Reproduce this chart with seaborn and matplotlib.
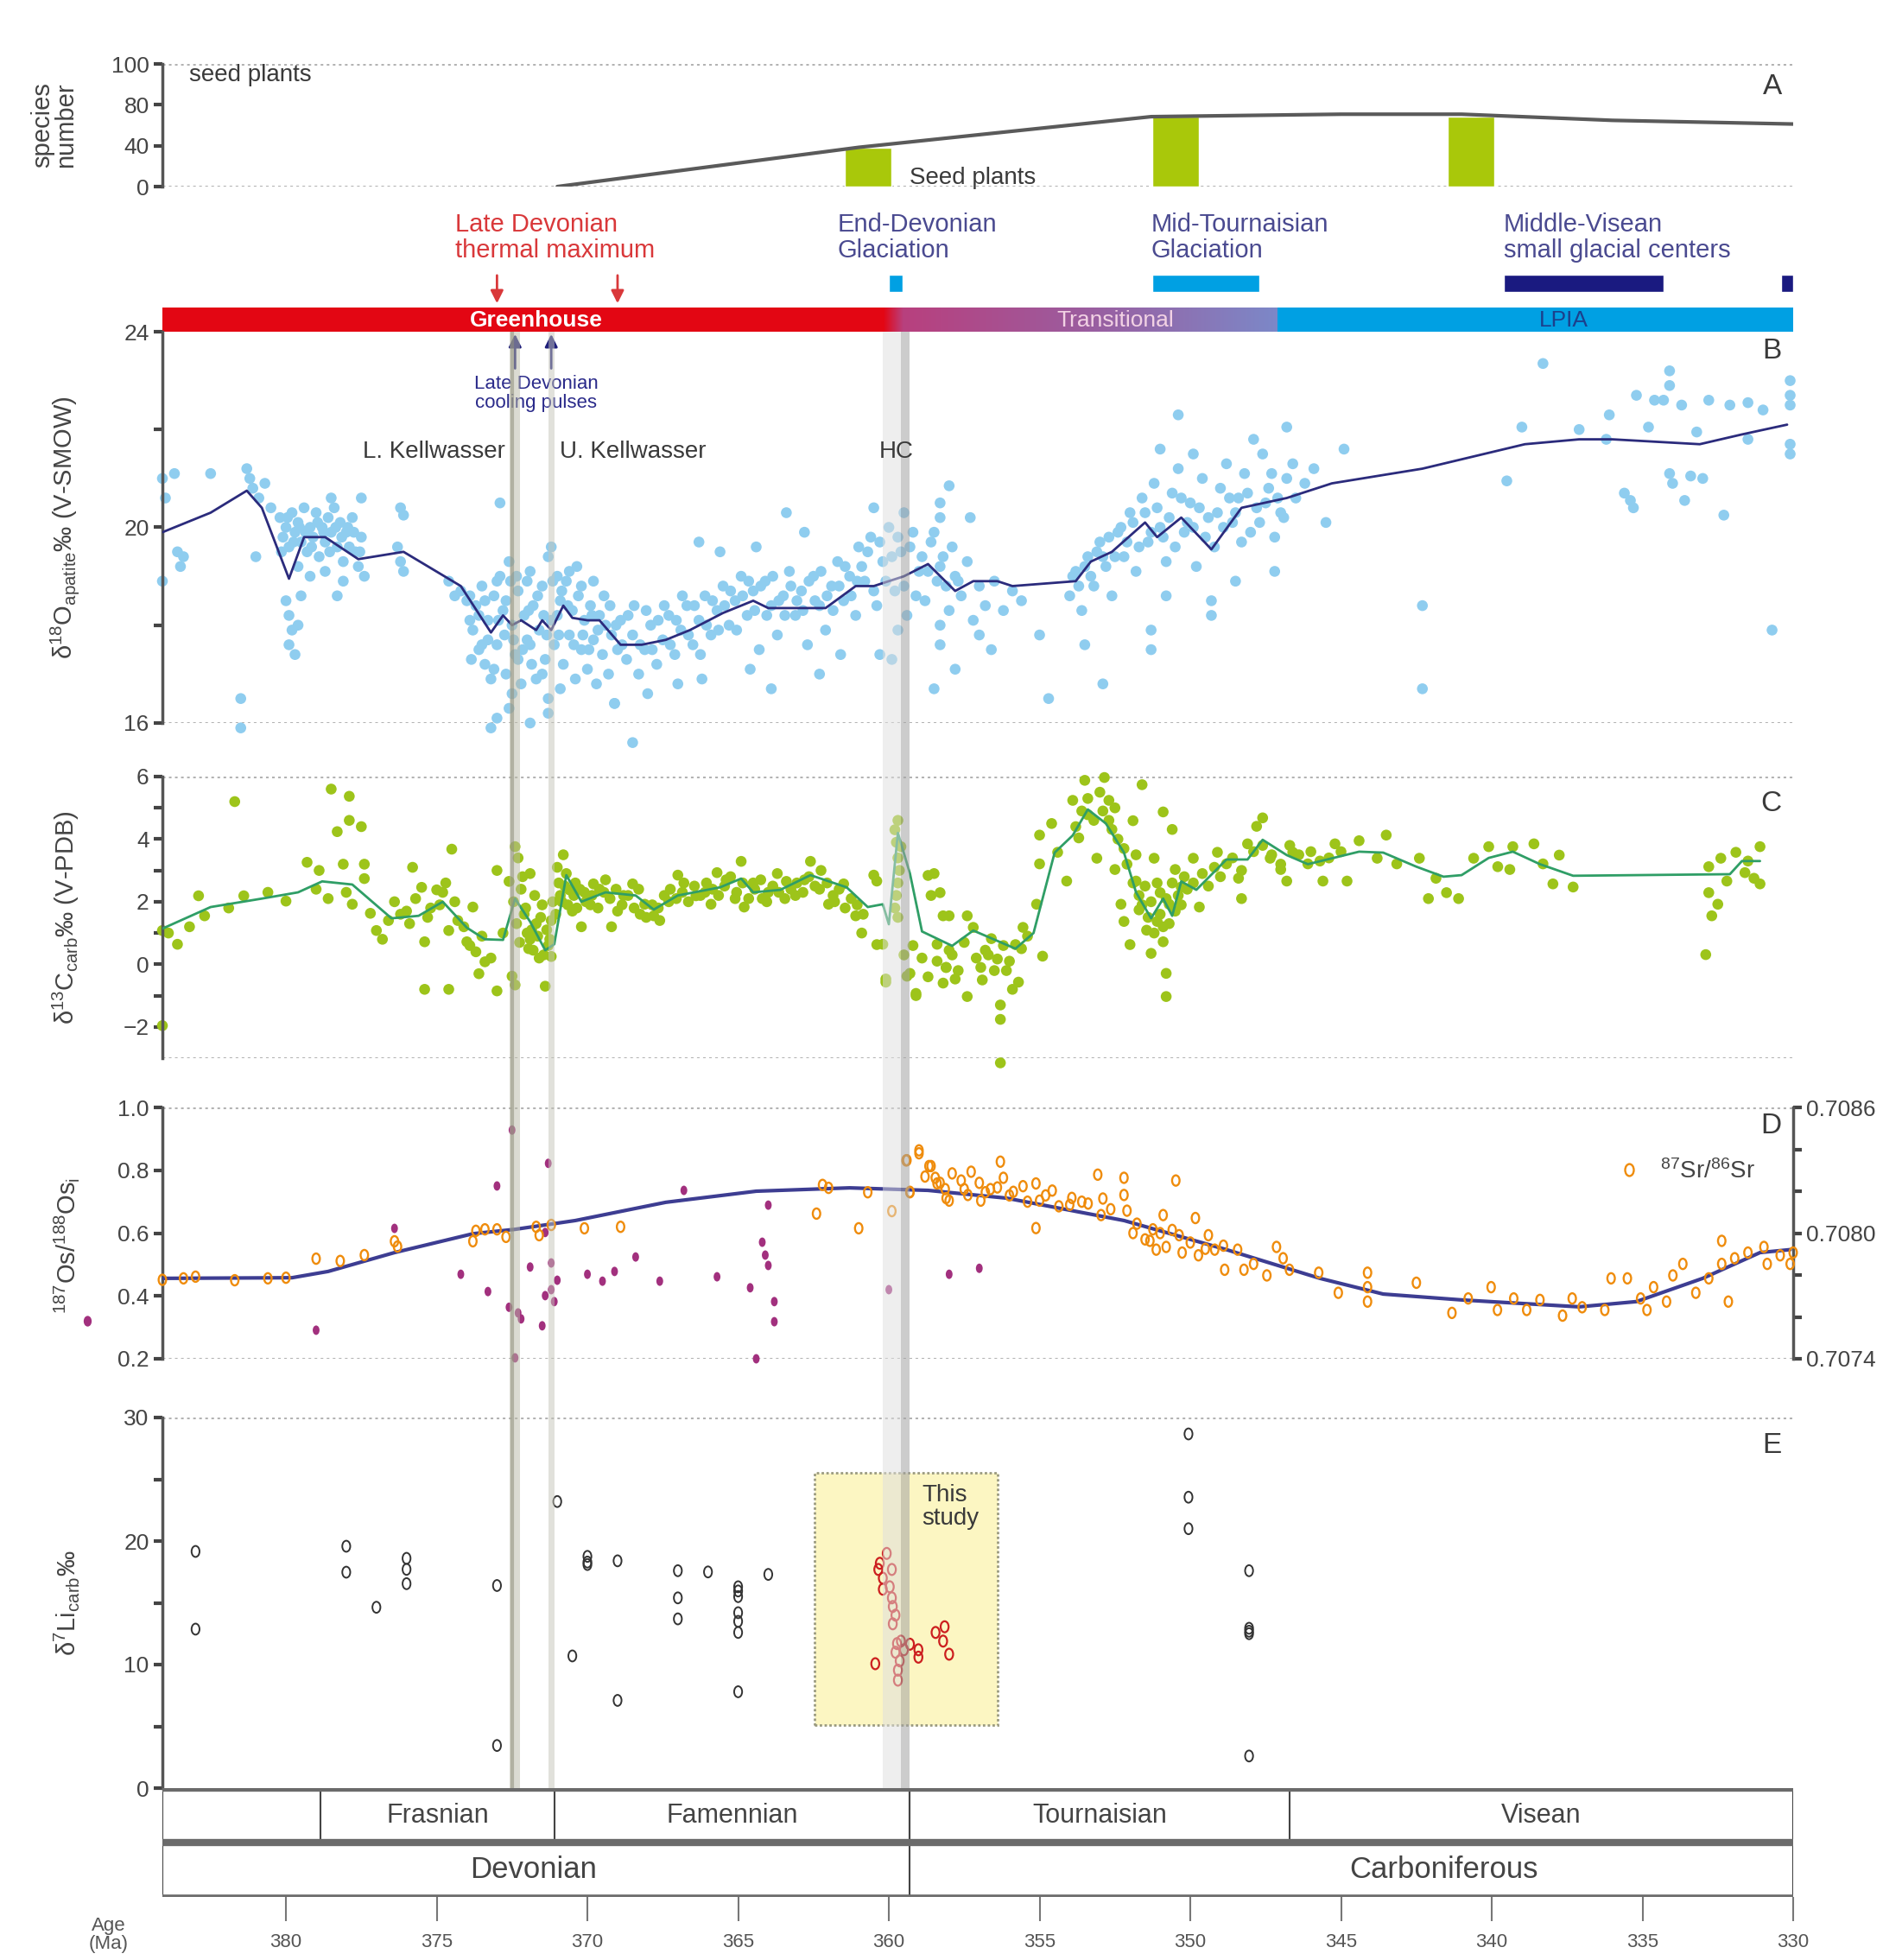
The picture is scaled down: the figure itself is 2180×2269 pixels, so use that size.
import matplotlib
matplotlib.use("Agg")
import matplotlib.pyplot as plt
import numpy as np
import pandas as pd
import seaborn as sns
from matplotlib import font_manager
from matplotlib.colors import LinearSegmentedColormap
from matplotlib.lines import Line2D
from matplotlib.path import Path

# ---------------- data ----------------
AGE_OLD, AGE_YOUNG = 384.1, 330.0
age_ticks = [380, 375, 370, 365, 360, 355, 350, 345, 340, 335, 330]

# A: seed plant species
seed_age = [371.0, 361.0, 351.3, 345.0, 341.0, 336.0, 330.0]
seed_num = [0, 32, 57, 59, 59, 54, 51]
seed_bar_age = [360.7, 350.5, 340.7]
seed_bar_num = [32, 57, 57]

# climate state bar
climate_names = ["Greenhouse", "Transitional", "LPIA"]
climate_start = [384.1, 360.2, 347.1]
climate_end = [360.2, 347.1, 330.0]
climate_label_age = [371.7, 352.5, 337.6]

# glaciations
glac_start = [360.0, 351.25, 339.6, 330.4]
glac_end = [359.55, 347.7, 334.3, 330.0]
glac_colors = ["#00a0e3", "#00a0e3", "#1a1a80", "#1a1a80"]
thermal_max_age = [373.0, 369.0]
cooling_pulse_age = [372.4, 371.2]

# event bands (Kellwasser, Hangenberg)
band_lk = (372.57, 372.24)
band_uk = (371.29, 371.08)
band_hc = (360.2, 359.3)

# B: d18O apatite
o18_points = [
    (384.1, 21.0), (384.0, 20.6), (383.7, 21.1), (384.1, 18.9), (383.6, 19.5), (383.4, 19.4), (383.5, 19.2),
    (382.5, 21.1), (381.3, 21.2), (381.2, 21.0), (381.1, 20.8), (380.9, 20.6), (381.5, 16.5), (381.5, 15.9),
    (381.0, 19.4), (380.7, 20.9), (380.5, 20.4),
    (380.2, 20.2), (380.1, 19.8), (380.0, 20.0), (379.9, 19.6), (379.8, 20.3), (379.7, 19.9), (379.6, 20.1),
    (379.5, 19.7), (379.4, 20.4), (379.3, 19.5), (379.2, 20.0), (379.1, 19.8), (379.0, 20.3), (378.9, 19.4),
    (378.8, 20.0), (378.7, 19.7), (378.6, 20.2), (378.5, 19.9), (378.4, 20.4), (378.3, 19.6), (378.2, 20.1),
    (378.1, 19.3), (378.0, 19.9), (377.9, 19.6), (377.8, 20.2), (377.7, 19.5), (377.6, 19.2), (377.5, 19.8),
    (377.4, 19.0), (378.5, 20.6), (377.5, 20.6), (379.6, 19.2), (379.2, 19.0), (378.7, 19.1), (378.1, 18.9),
    (380.15, 19.5), (379.95, 20.2), (379.75, 19.7), (379.55, 20.0), (379.35, 19.9), (379.15, 19.6),
    (378.95, 20.1), (378.75, 19.9), (378.55, 19.5), (378.35, 20.0), (378.15, 19.8), (377.95, 20.0),
    (377.75, 19.9), (377.55, 19.5),
    (380.0, 18.5), (379.9, 18.2), (379.8, 17.9), (379.9, 17.6), (379.7, 17.4), (379.6, 18.0), (379.5, 18.6),
    (378.3, 18.6), (376.1, 20.25), (376.2, 20.4), (376.2, 19.3), (376.1, 19.1), (376.3, 19.6),
    (374.6, 18.9), (374.4, 18.6), (374.2, 18.7), (374.0, 18.5), (372.9, 20.5), (373.9, 18.1),
    (373.8, 17.9), (373.7, 18.4), (373.6, 17.5), (373.5, 18.8), (373.4, 17.2), (373.3, 18.1), (373.2, 16.9),
    (373.1, 18.6), (373.0, 17.6), (372.9, 19.0), (372.8, 18.3), (372.7, 17.0), (372.6, 19.3), (372.5, 18.0),
    (372.4, 17.4), (372.3, 18.7), (372.2, 16.8), (372.1, 18.2), (372.0, 17.7), (371.9, 19.1), (371.8, 18.4),
    (371.7, 16.9), (371.6, 17.9), (371.5, 18.8), (371.4, 17.3), (371.3, 19.4), (371.2, 18.1), (371.1, 17.6),
    (371.0, 19.0), (370.9, 18.5), (370.8, 17.2), (370.7, 18.9), (370.6, 17.8), (370.5, 18.3), (370.4, 16.9),
    (370.3, 18.6), (370.2, 17.5), (370.1, 18.1), (370.0, 17.1), (369.9, 18.4), (369.8, 17.7), (369.7, 16.8),
    (369.6, 18.2), (369.5, 17.4), (369.4, 18.0), (369.3, 17.0), (369.2, 17.8), (369.1, 16.4), (369.0, 17.5),
    (368.9, 18.1), (373.5, 17.6), (373.0, 18.9), (372.7, 18.5), (372.3, 17.3), (371.9, 17.6), (371.5, 17.0),
    (371.2, 19.6), (371.0, 18.2), (370.6, 19.1), (370.2, 18.8), (369.8, 18.9), (372.0, 18.9), (372.5, 16.6),
    (371.3, 16.5), (370.9, 16.7), (373.0, 16.1), (373.2, 15.9), (371.3, 16.2), (369.1, 16.4), (368.5, 15.6),
    (372.6, 16.3), (371.9, 16.0),
    (373.9, 18.6), (373.85, 17.3), (373.6, 18.2), (373.4, 18.5), (373.3, 17.7), (373.1, 17.1), (372.95, 18.1),
    (372.75, 17.8), (372.55, 18.9), (372.45, 17.7), (372.35, 19.0), (372.15, 17.5), (371.95, 18.3),
    (371.85, 17.2), (371.65, 18.6), (371.45, 18.2), (371.35, 17.8), (371.15, 18.9), (370.95, 17.8),
    (370.85, 18.7), (370.65, 18.4), (370.45, 17.6), (370.35, 19.2), (370.15, 17.8), (369.95, 17.5),
    (369.85, 18.2), (369.65, 17.9), (369.45, 18.6), (369.25, 18.4), (369.05, 18.0), (368.85, 17.6),
    (368.65, 18.2), (368.45, 18.4), (368.25, 17.6), (368.05, 18.3), (367.85, 17.5), (367.65, 18.1),
    (367.45, 18.4), (367.25, 17.6), (367.05, 18.1), (366.85, 18.6), (366.65, 17.8), (366.45, 18.4),
    (366.25, 17.4), (366.05, 18.0), (365.85, 18.5), (365.65, 17.9), (365.45, 18.4), (365.25, 18.7),
    (365.05, 17.9), (364.85, 18.6), (364.65, 18.9), (364.45, 18.3), (364.25, 18.8), (364.05, 18.2),
    (363.85, 19.0), (363.65, 18.5), (363.45, 18.2), (363.25, 18.8), (363.05, 18.5), (362.85, 18.3),
    (362.65, 18.9), (362.45, 18.5), (362.25, 19.1), (362.05, 18.6), (361.85, 18.3), (361.65, 18.8),
    (361.45, 19.2), (361.25, 18.6), (361.05, 18.9),
    (368.7, 17.3), (368.5, 17.8), (368.3, 17.0), (368.1, 17.5), (367.9, 18.0), (367.7, 17.2), (367.5, 17.7),
    (367.3, 18.2), (367.1, 17.4), (366.9, 17.9), (366.7, 18.4), (366.5, 17.6), (366.3, 18.1), (366.1, 18.6),
    (365.9, 17.8), (365.7, 18.3), (365.5, 18.8), (365.3, 18.0), (365.1, 18.5), (364.9, 19.0), (364.7, 18.2),
    (364.5, 18.7), (364.3, 17.5), (364.1, 18.9), (363.9, 18.4), (363.7, 17.8), (363.5, 18.6), (363.3, 19.1),
    (363.1, 18.2), (362.9, 18.7), (362.7, 17.6), (362.5, 19.0), (362.3, 18.4), (362.1, 17.9), (361.9, 18.8),
    (361.7, 19.3), (361.5, 18.5), (361.3, 19.0), (361.1, 18.2), (366.3, 19.7), (365.6, 19.5), (364.4, 19.6),
    (363.4, 20.3), (362.8, 19.9), (367.0, 16.8), (366.2, 16.9), (364.6, 17.1), (363.9, 16.7), (362.3, 17.0),
    (361.6, 17.4), (368.0, 16.6),
    (361.0, 19.6), (360.8, 18.9), (360.6, 19.8), (360.4, 18.4), (360.2, 19.3), (360.0, 20.0), (359.8, 18.7),
    (359.6, 19.5), (359.4, 18.2), (359.2, 19.9), (359.0, 19.1), (358.8, 18.5), (358.6, 19.7), (358.4, 18.9),
    (358.2, 19.4), (358.0, 18.3), (357.8, 19.0), (357.6, 18.6), (357.4, 19.3), (357.2, 18.1), (357.0, 18.8),
    (356.8, 18.4), (356.5, 18.9), (356.2, 18.3), (355.9, 18.7), (355.6, 18.5), (358.0, 20.85), (358.3, 20.5),
    (358.3, 20.2), (357.3, 20.2), (359.5, 20.3), (360.5, 20.4), (358.3, 18.0), (358.3, 17.6), (357.8, 17.1),
    (358.5, 16.7), (354.7, 16.5), (360.3, 17.4), (359.9, 17.3), (359.7, 17.9), (357.0, 17.8), (356.6, 17.5),
    (355.0, 17.8),
    (360.9, 19.2), (360.7, 19.5), (360.5, 18.7), (360.3, 19.7), (360.1, 18.9), (359.9, 19.4), (359.7, 19.8),
    (359.5, 18.8), (359.3, 19.6), (359.1, 18.6), (358.9, 19.4), (358.7, 19.1), (358.5, 19.9), (358.3, 19.2),
    (358.1, 18.8), (357.9, 19.6), (357.7, 18.9),
    (354.0, 18.6), (353.8, 19.1), (353.6, 18.3), (353.4, 19.4), (353.2, 18.8), (353.0, 19.7), (352.8, 19.2),
    (352.6, 18.6), (352.4, 19.9), (352.2, 19.4), (352.0, 20.3), (351.8, 19.1), (351.6, 20.6), (351.4, 19.7),
    (351.2, 20.9), (351.0, 20.0), (350.8, 19.3), (350.6, 20.7), (350.4, 21.2), (350.2, 19.9), (350.0, 20.5),
    (349.8, 19.2), (349.6, 21.0), (349.4, 20.2), (349.2, 19.6), (349.0, 20.8), (348.8, 21.3), (348.6, 20.1),
    (348.4, 20.6), (348.2, 21.1), (348.0, 19.9), (347.8, 20.4), (347.6, 21.5), (347.4, 20.8), (347.2, 19.8),
    (347.0, 20.3), (346.8, 21.0), (346.5, 20.6), (346.2, 20.9), (345.9, 21.2), (350.4, 22.3), (346.8, 22.05),
    (344.9, 21.6), (352.9, 16.8), (351.3, 17.9), (351.3, 17.5), (349.3, 18.5), (349.3, 18.2), (342.3, 18.4),
    (342.3, 16.7), (350.8, 18.6), (353.5, 17.6), (348.5, 18.9), (347.2, 19.1), (351.0, 21.6), (349.9, 21.5),
    (347.9, 21.8), (345.5, 20.1),
    (353.9, 19.0), (353.7, 18.8), (353.5, 19.2), (353.3, 19.0), (353.1, 19.5), (352.9, 19.4), (352.7, 19.8),
    (352.5, 19.4), (352.3, 20.0), (352.1, 19.7), (351.9, 20.1), (351.7, 19.6), (351.5, 20.3), (351.3, 19.9),
    (351.1, 20.4), (350.9, 19.8), (350.7, 20.2), (350.5, 19.6), (350.3, 20.6), (350.1, 20.1), (349.9, 20.0),
    (349.7, 20.4), (349.5, 19.8), (349.1, 20.3), (348.9, 20.0), (348.7, 20.6), (348.5, 20.3), (348.3, 19.7),
    (348.1, 20.7), (347.7, 20.1), (347.5, 20.5), (347.3, 21.1), (347.1, 20.6), (346.9, 20.2), (346.6, 21.3),
    (338.3, 23.35), (334.1, 23.2), (334.1, 22.9), (335.2, 22.7), (334.6, 22.6), (333.7, 22.5), (334.3, 22.6),
    (332.8, 22.6), (332.1, 22.5), (331.5, 22.55), (331.0, 22.4), (330.1, 23.0), (330.1, 22.7), (330.1, 22.5),
    (330.1, 21.7), (330.1, 21.5), (339.0, 22.05), (337.1, 22.0), (336.1, 22.3), (334.8, 22.05), (333.2, 21.95),
    (331.5, 21.8), (339.5, 20.95), (335.4, 20.55), (335.3, 20.4), (334.1, 21.1), (334.0, 20.9), (333.0, 21.0),
    (333.6, 20.55), (332.3, 20.25), (336.2, 21.8), (330.7, 17.9), (335.6, 20.7), (333.4, 21.05),
]
o18_trend_age = [384.1, 382.5, 381.3, 380.8, 379.9, 379.4, 378.7, 377.6, 376.1, 374.2, 373.2, 372.8, 372.5,
                 372.2, 371.7, 371.5, 371.2, 370.8, 370.5, 370.0, 369.6, 368.9, 368.2, 367.4, 366.6, 365.5,
                 364.5, 364.0, 362.1, 361.1, 360.5, 359.5, 358.7, 357.8, 357.2, 356.4, 355.9, 353.8, 353.3,
                 352.6, 351.5, 351.1, 350.3, 349.3, 348.3, 346.8, 345.3, 342.3, 338.9, 337.1, 336.0, 333.1,
                 331.7, 330.2]
o18_trend = [19.9, 20.3, 20.75, 20.4, 18.95, 19.8, 19.8, 19.35, 19.5, 18.8, 17.85, 18.2, 18.0, 18.1, 17.9,
             18.1, 17.9, 18.4, 18.15, 18.1, 18.1, 17.6, 17.6, 17.7, 17.9, 18.25, 18.5, 18.35, 18.35, 18.8,
             18.8, 19.0, 19.25, 18.7, 18.9, 18.9, 18.8, 18.9, 19.3, 19.5, 20.1, 19.8, 20.2, 19.55, 20.4, 20.6,
             20.9, 21.2, 21.7, 21.8, 21.8, 21.7, 21.9, 22.1]

# C: d13C carbonate
c13_points = [
    (384.1, -1.96), (384.1, 1.08), (383.6, 0.64), (382.9, 2.19), (381.7, 5.2), (382.7, 1.55), (381.4, 2.19),
    (380.0, 2.02), (378.5, 5.6), (377.9, 5.37), (378.3, 4.24), (377.9, 4.6), (377.5, 4.4), (379.3, 3.26),
    (378.1, 3.2), (377.4, 3.2), (378.9, 3.0), (377.4, 2.74), (378.6, 2.1), (377.8, 1.92), (377.2, 1.63),
    (377.0, 1.08), (376.8, 0.8), (376.4, 2.0), (375.8, 3.1), (375.5, 2.46), (375.4, 0.72), (375.4, -0.8),
    (374.6, -0.8), (374.5, 3.68), (375.0, 2.38), (374.6, 1.08), (374.0, 0.72), (373.8, 1.83), (373.6, -0.3),
    (373.4, 0.08), (373.0, -0.85), (373.0, 3.0), (372.6, 2.65), (372.4, 3.76), (372.5, -0.38), (372.4, -0.66),
    (371.9, 0.8), (371.8, 0.45), (371.4, -0.7), (371.2, 0.25), (370.8, 3.5), (370.6, 2.38), (370.2, 1.2),
    (369.8, 2.57), (369.2, 1.2), (368.5, 2.57), (368.1, 1.92), (367.8, 1.55), (367.0, 2.85), (366.4, 2.19),
    (365.9, 1.92), (365.7, 2.93), (364.9, 3.29), (364.8, 1.83), (364.2, 2.1), (363.4, 2.65), (362.6, 3.29),
    (362.0, 1.92), (361.5, 2.57), (361.1, 1.55), (360.9, 1.0), (360.5, 2.85), (360.2, 0.64), (360.1, -0.57),
    (359.7, 4.6), (359.6, 3.76), (359.4, -0.38), (359.1, -1.0), (358.5, 2.9), (358.4, 0.64), (358.1, -0.1),
    (358.0, 1.55),
    (372.3, 3.4), (372.2, 2.4), (372.1, 1.6), (372.0, 1.0), (371.9, 2.9), (371.7, 1.3), (371.6, 0.2),
    (371.5, 1.9), (371.3, 0.6), (371.2, 1.4), (371.0, 3.1), (370.9, 2.2), (370.7, 2.9), (370.5, 1.7),
    (370.4, 2.6), (370.1, 2.3), (369.9, 1.9), (369.6, 2.4), (369.4, 2.7), (369.0, 1.7), (368.8, 2.2),
    (368.3, 2.4), (367.6, 1.4), (367.3, 2.0), (366.8, 2.6), (366.1, 2.3), (365.4, 2.7), (365.1, 2.1),
    (364.5, 2.6), (364.0, 2.3), (363.7, 2.9), (363.1, 2.2), (362.8, 2.7), (362.3, 2.4), (361.8, 2.0),
    (374.8, 2.3), (375.2, 1.8), (375.9, 1.3), (376.2, 1.6), (374.3, 1.4), (373.7, 0.4), (373.2, 0.2),
    (372.8, 1.0), (380.6, 2.3), (381.9, 1.8), (383.2, 1.2), (383.9, 1.0), (379.0, 2.4), (378.0, 2.3),
    (376.6, 1.4), (376.0, 1.7), (375.7, 2.1), (375.3, 1.5), (374.9, 1.9), (374.7, 2.6), (374.4, 2.0),
    (374.1, 1.2), (373.9, 0.6), (373.5, 0.9),
    (372.45, 2.0), (372.35, 1.3), (372.25, 0.7), (372.15, 2.8), (372.05, 1.8), (371.95, 0.5), (371.85, 1.1),
    (371.75, 2.2), (371.65, 0.9), (371.55, 1.5), (371.45, 0.3), (371.35, 1.1), (371.25, 0.8), (371.15, 2.0),
    (371.05, 1.6), (370.95, 2.6), (370.85, 2.0), (370.75, 2.5), (370.65, 1.9), (370.45, 2.2), (370.35, 1.8),
    (370.25, 2.4), (370.05, 2.0), (369.85, 2.2), (369.65, 1.8), (369.45, 2.3), (369.25, 2.1), (369.05, 2.4),
    (368.85, 1.9), (368.65, 2.2), (368.45, 1.8), (368.25, 1.6), (368.05, 1.5), (367.85, 1.9), (367.65, 1.8),
    (367.45, 2.2), (367.25, 2.4), (367.05, 2.1), (366.85, 2.3), (366.65, 2.0), (366.45, 2.5), (366.25, 2.2),
    (366.05, 2.6), (365.85, 2.4), (365.65, 2.2), (365.45, 2.5), (365.25, 2.8), (365.05, 2.3), (364.85, 2.6),
    (364.65, 2.1), (364.45, 2.4), (364.25, 2.7), (364.05, 2.0), (363.85, 2.5), (363.65, 2.3), (363.45, 2.1),
    (363.25, 2.4), (363.05, 2.6), (362.85, 2.3), (362.65, 2.8), (362.45, 2.5), (362.25, 3.0), (362.05, 2.6),
    (361.85, 2.2), (361.65, 2.4), (361.45, 1.8), (361.25, 2.1), (361.05, 1.9), (360.85, 1.6),
    (359.8, 4.3), (359.75, 3.9), (359.7, 3.4), (359.65, 3.0), (359.7, 2.6), (359.75, 2.2), (359.8, 1.8),
    (359.7, 1.5),
    (359.5, 0.3), (359.2, 0.6), (358.9, 0.2), (358.7, -0.4), (358.4, 0.1), (358.2, -0.6), (357.9, 0.3),
    (357.7, -0.2), (357.5, 0.7), (357.1, 0.2), (356.9, -0.5), (356.7, 0.3), (356.5, -0.2), (356.2, 0.6),
    (356.0, 0.1), (355.9, -0.8), (355.6, 0.5), (355.4, 0.9),
    (360.4, 2.66), (360.4, 0.63), (360.1, -0.47), (359.3, -0.29), (359.1, -0.93), (358.7, 2.84), (358.6, 2.2),
    (358.3, 2.29), (358.2, 1.55), (358.1, -0.1), (358.0, 0.45), (357.8, -0.47), (357.4, 1.55), (357.4, -1.03),
    (357.2, 1.18), (356.95, -0.1), (356.8, 0.45), (356.6, 0.82), (356.4, 0.17), (356.3, -1.3), (356.3, -1.76),
    (356.3, -3.15), (356.1, -0.2), (355.8, 0.63), (355.7, -0.57), (355.55, 1.18), (355.1, 1.92), (355.0, 3.21),
    (355.0, 4.13), (354.9, 0.26), (354.6, 4.5), (354.4, 3.58), (354.1, 2.66), (353.9, 5.24), (353.7, 4.04),
    (353.5, 5.88), (353.4, 4.78), (353.1, 3.39), (352.85, 5.97), (352.7, 5.24), (352.6, 4.31), (352.5, 3.03),
    (352.3, 1.92), (352.2, 1.37), (352.0, 0.63), (351.9, 4.59), (351.8, 2.66), (351.7, 1.74), (351.6, 5.74),
    (351.45, 1.09), (351.3, 0.35), (351.2, 3.39), (351.1, 1.37), (351.0, 2.29), (350.9, 4.87), (350.9, 0.72),
    (350.8, -0.29), (350.8, -1.03), (350.7, 1.92), (350.6, 4.31), (350.5, 3.03), (350.3, 2.47), (349.9, 3.39),
    (349.7, 1.83), (349.1, 3.58), (348.8, 3.21), (348.4, 2.75), (348.3, 2.1), (348.1, 3.85), (347.8, 4.41),
    (347.6, 4.68), (347.35, 3.39), (347.0, 3.03), (346.8, 2.66), (346.6, 3.58), (346.1, 3.21), (345.6, 2.66),
    (345.2, 3.85), (344.8, 2.66), (344.4, 3.95), (343.8, 3.39), (343.5, 4.13), (343.15, 3.21), (342.4, 3.39),
    (342.1, 2.1), (341.85, 2.75), (341.5, 2.29), (341.1, 2.1), (340.6, 3.39), (340.1, 3.76), (339.8, 3.12),
    (339.4, 3.03), (339.3, 3.76), (338.6, 3.85), (338.3, 3.21), (337.97, 2.57), (337.76, 3.49), (337.3, 2.47),
    (353.8, 4.4), (353.6, 4.9), (353.4, 5.3), (353.2, 4.6), (353.0, 5.5), (352.9, 4.9), (352.7, 4.6),
    (352.5, 5.0), (352.4, 4.0), (352.2, 3.7), (352.1, 3.2), (351.9, 2.6), (351.8, 3.5), (351.7, 2.2),
    (351.6, 1.9), (351.5, 2.5), (351.4, 1.5), (351.3, 2.0), (351.2, 1.0), (351.1, 2.6), (351.0, 1.6),
    (350.9, 1.2), (350.8, 2.1), (350.7, 1.3), (350.6, 2.6), (350.5, 1.7), (350.4, 2.2), (350.3, 1.9),
    (350.2, 2.8), (350.1, 2.4), (349.9, 2.6), (349.6, 2.9), (349.4, 2.5), (349.2, 3.1), (349.0, 2.8),
    (348.6, 3.4), (348.3, 3.0), (347.9, 3.6), (347.6, 3.8), (347.3, 3.5), (347.0, 3.2), (346.7, 3.8),
    (346.4, 3.5), (346.0, 3.6), (345.7, 3.3), (345.4, 3.4), (345.0, 3.6),
    (332.9, 0.31), (332.8, 3.12), (332.8, 2.29), (332.7, 1.55), (332.5, 1.92), (332.4, 3.39), (332.2, 2.66),
    (331.9, 3.58), (331.6, 2.93), (331.5, 3.3), (331.3, 2.75), (331.1, 3.76), (331.1, 2.57),
]
c13_trend_age = [384.1, 382.5, 380.8, 379.6, 378.8, 377.8, 376.5, 375.6, 374.8, 374.0, 373.4, 372.8, 372.4,
                 371.9, 371.4, 371.1, 370.7, 370.2, 369.4, 368.4, 367.8, 367.0, 365.6, 364.9, 364.5, 363.6,
                 362.6, 361.4, 360.7, 360.2, 360.0, 359.7, 359.3, 358.9, 357.9, 357.2, 355.8, 355.2, 354.5,
                 353.9, 353.4, 352.8, 352.2, 351.8, 351.3, 350.9, 350.6, 350.3, 349.8, 348.8, 348.1, 347.6,
                 346.8, 346.1, 344.4, 343.6, 342.5, 341.6, 341.0, 340.1, 339.3, 338.4, 337.3, 332.1, 331.7,
                 331.1]
c13_trend = [1.14, 1.83, 2.1, 2.3, 2.65, 2.55, 1.47, 1.55, 2.0, 1.17, 0.8, 0.78, 2.1, 1.36, 0.45, 0.64,
             2.85, 2.0, 2.3, 2.2, 1.75, 2.2, 2.46, 2.74, 2.3, 2.38, 2.85, 2.46, 1.83, 1.92, 1.28, 4.2, 2.9,
             1.05, 0.59, 1.08, 0.5, 1.0, 3.57, 4.12, 4.95, 4.5, 3.57, 2.3, 1.47, 2.1, 1.55, 2.65, 2.38, 3.35,
             3.35, 3.98, 3.49, 3.2, 3.6, 3.57, 3.12, 2.8, 2.85, 3.4, 3.6, 3.2, 2.83, 2.88, 3.3, 3.3]

# D: 187Os/188Os(i) and 87Sr/86Sr
os_points = [
    (379.0, 0.291), (376.4, 0.615), (374.2, 0.469), (373.3, 0.414), (373.0, 0.75), (372.6, 0.364),
    (372.5, 0.928), (372.4, 0.203), (372.3, 0.346), (372.2, 0.327), (371.9, 0.492), (371.5, 0.305),
    (371.4, 0.602), (371.4, 0.401), (371.3, 0.822), (371.2, 0.505), (371.2, 0.42), (371.1, 0.382),
    (371.0, 0.45), (370.0, 0.469), (369.5, 0.447), (369.1, 0.478), (368.4, 0.524), (367.6, 0.447),
    (366.8, 0.736), (365.7, 0.461), (364.6, 0.426), (364.4, 0.2), (364.2, 0.571), (364.1, 0.53),
    (364.0, 0.497), (364.0, 0.689), (363.8, 0.382), (363.8, 0.318), (360.0, 0.42), (358.0, 0.469),
    (357.0, 0.488),
]
sr_points = [
    (384.1, 0.707777), (383.4, 0.707784), (383.0, 0.707792), (381.7, 0.707775), (380.6, 0.707784),
    (380.0, 0.707787), (379.0, 0.707878), (378.2, 0.707867), (377.4, 0.707895), (376.4, 0.707961),
    (376.3, 0.707936), (373.8, 0.707961), (373.7, 0.708011), (373.4, 0.708018), (373.0, 0.708018),
    (372.7, 0.707982), (371.7, 0.708030), (371.6, 0.707990), (371.2, 0.708039), (370.1, 0.708023),
    (368.9, 0.708030), (362.4, 0.708093), (362.2, 0.708230), (362.0, 0.708216), (361.0, 0.708023),
    (360.7, 0.708195), (359.9, 0.708105), (359.4, 0.708348), (359.3, 0.708195), (359.0, 0.708381),
    (358.6, 0.708320), (358.4, 0.708237), (358.1, 0.708167),
    (359.43, 0.708347), (359.0, 0.708395), (359.3, 0.708197), (358.67, 0.708320), (358.46, 0.708264),
    (358.13, 0.708210), (358.0, 0.708155), (357.6, 0.708251), (357.38, 0.708182), (357.27, 0.708293),
    (356.95, 0.708155), (356.63, 0.708210), (356.3, 0.708341), (356.2, 0.708264), (355.87, 0.708197),
    (355.55, 0.708224), (355.12, 0.708237), (355.0, 0.708155), (355.12, 0.708024), (354.58, 0.708203),
    (354.36, 0.708128), (353.93, 0.708168), (353.39, 0.708141), (353.07, 0.708279), (352.96, 0.708086),
    (352.64, 0.708114), (352.2, 0.708264), (352.2, 0.708182), (352.1, 0.708107), (351.77, 0.708045),
    (351.34, 0.707963), (351.24, 0.708018), (351.13, 0.707921), (350.9, 0.708086), (350.8, 0.707934),
    (350.48, 0.708251), (350.37, 0.707990), (350.27, 0.707907), (349.83, 0.708072), (349.73, 0.707894),
    (349.4, 0.707990), (349.19, 0.707921), (348.86, 0.707825), (348.43, 0.707921), (348.22, 0.707825),
    (347.9, 0.707853), (347.46, 0.707798), (347.14, 0.707934), (346.92, 0.707880), (346.71, 0.707825),
    (345.74, 0.707811), (345.09, 0.707715), (344.12, 0.707811), (344.12, 0.707742), (344.12, 0.707673),
    (342.5, 0.707763), (341.32, 0.707619), (340.78, 0.707688), (340.02, 0.707742), (339.81, 0.707633),
    (339.27, 0.707688), (338.84, 0.707633), (338.4, 0.707681), (337.65, 0.707606), (337.33, 0.707688),
    (337.0, 0.707646), (336.25, 0.707633), (336.04, 0.707784), (335.5, 0.707784), (335.06, 0.707688),
    (334.85, 0.707633), (334.63, 0.707742), (334.2, 0.707673), (333.99, 0.707798), (333.66, 0.707853),
    (333.23, 0.707715), (332.8, 0.707784), (332.37, 0.707963), (332.37, 0.707853), (332.15, 0.707673),
    (331.94, 0.707880), (331.5, 0.707907), (330.97, 0.707934), (330.86, 0.707853), (330.43, 0.707894),
    (330.1, 0.707853), (330.0, 0.707907),
    (357.9, 0.708285), (357.0, 0.708240), (356.0, 0.708180), (355.4, 0.708150), (354.8, 0.708180),
    (354.0, 0.708135), (353.6, 0.708150), (352.9, 0.708165), (351.9, 0.708000), (351.5, 0.707970),
    (351.0, 0.708000), (350.6, 0.708015), (350.0, 0.707955), (349.5, 0.707925), (348.9, 0.707940),
    (358.8, 0.708270), (358.3, 0.708240), (357.5, 0.708210), (356.8, 0.708195), (356.4, 0.708218),
]
sr_trend_age = [384.1, 379.8, 378.6, 376.4, 373.8, 372.4, 370.4, 367.4, 364.4, 361.3, 358.7, 356.1, 352.2,
                348.8, 345.7, 343.6, 341.0, 337.1, 335.2, 333.0, 331.1, 330.1]
sr_trend = [0.707784, 0.707787, 0.707817, 0.707907, 0.707997, 0.708018, 0.708060, 0.708147, 0.708200,
            0.708216, 0.708204, 0.708167, 0.708060, 0.707921, 0.707784, 0.707709, 0.707681, 0.707648,
            0.707673, 0.707784, 0.707907, 0.707921]

# E: d7Li carbonate
li_points = [
    (383.0, 19.16), (383.0, 12.87), (378.0, 19.58), (378.0, 17.48), (377.0, 14.64), (376.0, 18.6),
    (376.0, 17.71), (376.0, 16.55), (373.0, 16.4), (373.0, 3.45), (371.0, 23.2), (370.5, 10.7),
    (370.0, 18.76), (370.0, 18.3), (370.0, 18.1), (369.0, 18.4), (369.0, 7.1), (367.0, 17.6), (367.0, 15.4),
    (367.0, 13.7), (366.0, 17.5), (365.0, 16.3), (365.0, 15.96), (365.0, 15.5), (365.0, 14.2), (365.0, 13.5),
    (365.0, 12.6), (365.0, 7.8), (364.0, 17.3), (350.06, 28.67), (350.06, 23.55), (350.06, 21.0),
    (348.05, 17.6), (348.05, 12.94), (348.05, 12.7), (348.05, 12.5), (348.05, 2.6),
]
li_study_points = [
    (360.07, 19.0), (360.3, 18.2), (360.35, 17.7), (359.9, 17.7), (360.2, 17.0), (359.97, 16.3),
    (360.2, 16.1), (359.9, 15.4), (359.87, 14.7), (359.78, 14.0), (359.87, 13.3), (359.73, 11.7),
    (359.6, 11.9), (359.78, 11.0), (359.5, 11.2), (359.64, 10.3), (359.7, 9.55), (359.7, 8.74),
    (359.02, 11.2), (359.02, 10.6), (360.45, 10.07), (358.45, 12.6), (358.15, 13.06), (358.2, 11.9),
    (358.0, 10.84), (359.3, 11.65),
]
study_box_age = (362.46, 356.39)
study_box_val = (5.1, 25.5)

# time scale
stage_names = ["", "Frasnian", "Famennian", "Tournaisian", "Visean"]
stage_bounds = [384.1, 378.85, 371.1, 359.3, 346.7, 330.0]
period_names = ["Devonian", "Carboniferous"]
period_bounds = [384.1, 359.3, 330.0]
period_label_age = [371.8, 341.6]

# ---------------- style ----------------
sns.set_theme(style="white")
names = {f.name for f in font_manager.fontManager.ttflist}
base = "Liberation Sans Narrow" if "Liberation Sans Narrow" in names else "Liberation Sans"
plt.rcParams["font.family"] = [base, "DejaVu Sans"]
plt.rcParams["mathtext.fontset"] = "custom"
plt.rcParams["mathtext.rm"] = base
plt.rcParams["mathtext.it"] = base
plt.rcParams["mathtext.bf"] = base

TXT = "#3a3a3a"
DOT = "#b3b3b3"
circ = Path.unit_circle()
oval = Path(circ.vertices * np.array([0.72, 1.0]), circ.codes)

W, H = 2180, 2269
X0, X1 = 188, 2076
fig = plt.figure(figsize=(W / 100, H / 100), dpi=100)


def add_axes(top, bottom):
    return fig.add_axes([X0 / W, 1 - bottom / H, (X1 - X0) / W, (bottom - top) / H])


def style(ax, ylim, major, minor=(), labels=None):
    ax.set_xlim(AGE_OLD, AGE_YOUNG)
    ax.set_ylim(*ylim)
    ax.set_facecolor("none")
    for side in ["top", "right", "bottom"]:
        ax.spines[side].set_visible(False)
    ax.spines["left"].set_color("#555555")
    ax.spines["left"].set_linewidth(2.5)
    ax.set_xticks([])
    ax.set_yticks(major)
    if labels is not None:
        ax.set_yticklabels(labels)
    ax.set_yticks(list(minor), minor=True)
    ax.tick_params(axis="y", which="both", left=True, direction="out", length=7, width=3,
                   color="#444444", labelsize=19, labelcolor="#444444", pad=4)
    ax.set_xlabel("")


def dotted(ax, values):
    for v in values:
        ax.axhline(v, color=DOT, ls=(0, (1, 1.3)), lw=2.2, zorder=0)


def panel_letter(ax, letter, y=0.97):
    ax.text(0.993, y, letter, transform=ax.transAxes, ha="right", va="top", fontsize=24, color=TXT)


# ---------------- panel A ----------------
ax_a = add_axes(74, 216)
ax_a.bar(seed_bar_age, seed_bar_num, width=1.55, color="#a9c80a", zorder=2)
sns.lineplot(x=seed_age, y=seed_num, ax=ax_a, color="#5a5a5a", lw=3, estimator=None, sort=False, zorder=3)
style(ax_a, (0, 100), [0, 100 / 3, 200 / 3, 100], labels=["0", "40", "80", "100"])
dotted(ax_a, [0, 100])
ax_a.text(383.2, 91, "seed plants", fontsize=20, color=TXT, va="center")
ax_a.text(359.3, 7, "Seed plants", fontsize=20, color=TXT, va="center")
ax_a.set_ylabel("species\nnumber", fontsize=21, color="#444444", linespacing=0.95)
ax_a.yaxis.set_label_coords(-0.052, 0.5)
panel_letter(ax_a, "A", 0.92)

# ---------------- events strip ----------------
ax_ev = add_axes(216, 356)
ax_ev.set_xlim(AGE_OLD, AGE_YOUNG)
ax_ev.set_ylim(140, 0)
ax_ev.axis("off")
RED, SLATE = "#d9383a", "#4a4a90"
ax_ev.text(374.4, 30, "Late Devonian\nthermal maximum", color=RED, fontsize=21, va="top", linespacing=1.1)
ax_ev.text(361.7, 30, "End-Devonian\nGlaciation", color=SLATE, fontsize=21, va="top", linespacing=1.1)
ax_ev.text(351.3, 30, "Mid-Tournaisian\nGlaciation", color=SLATE, fontsize=21, va="top", linespacing=1.1)
ax_ev.text(339.6, 30, "Middle-Visean\nsmall glacial centers", color=SLATE, fontsize=21, va="top",
           linespacing=1.1)
for a in thermal_max_age:
    ax_ev.annotate("", xy=(a, 138), xytext=(a, 100),
                   arrowprops=dict(arrowstyle="-|>", color=RED, lw=2, mutation_scale=22))
for s, e, c in zip(glac_start, glac_end, glac_colors):
    ax_ev.barh(112, width=e - s, left=s, height=20, color=c)

# ---------------- climate bar ----------------
ax_bar = add_axes(356, 384)
trans_cmap = LinearSegmentedColormap.from_list(
    "trans", [(0, "#e30613"), (0.05, "#b8407e"), (0.5, "#9c5c9e"), (1.0, "#7c88c8")])
ax_bar.axvspan(climate_start[0], climate_end[0], color="#e30613", lw=0)
ax_bar.imshow(np.linspace(0, 1, 256)[None, :], cmap=trans_cmap, aspect="auto",
              extent=[climate_start[1], climate_end[1], 0, 1])
ax_bar.axvspan(climate_start[2], climate_end[2], color="#00a0e3", lw=0)
ax_bar.set_xlim(AGE_OLD, AGE_YOUNG)
ax_bar.set_ylim(0, 1)
ax_bar.axis("off")
bar_txt = [dict(color="white", fontweight="bold"), dict(color="#f2d2e4"), dict(color="#1c3f8c")]
for name, a, kw in zip(climate_names, climate_label_age, bar_txt):
    ax_bar.text(a, 0.45, name, ha="center", va="center", fontsize=19, **kw)

# ---------------- panel B ----------------
ax_b = add_axes(384, 837)
df_b = pd.DataFrame(o18_points, columns=["age", "d18o"])
sns.scatterplot(data=df_b, x="age", y="d18o", ax=ax_b, color="#8fcdef", s=82, marker="o",
                edgecolor="none", linewidth=0, clip_on=False, zorder=2)
sns.lineplot(x=o18_trend_age, y=o18_trend, ax=ax_b, color="#2b2b7c", lw=2, estimator=None, sort=False,
             zorder=3)
style(ax_b, (16, 24), [16, 20, 24], [18, 22])
dotted(ax_b, [16])
ax_b.set_ylabel(r"δ$^{18}$O$_{\rm apatite}$‰ (V-SMOW)", fontsize=21, color="#444444")
ax_b.yaxis.set_label_coords(-0.05, 0.5)
for a in cooling_pulse_age:
    ax_b.annotate("", xy=(a, 24.0), xytext=(a, 23.2),
                  arrowprops=dict(arrowstyle="-|>", color="#1f1f7a", lw=2, mutation_scale=22))
ax_b.text(371.7, 23.12, "Late Devonian\ncooling pulses", ha="center", va="top", fontsize=16,
          color="#2a2a8a", linespacing=1.05)
ax_b.text(375.1, 21.54, "L. Kellwasser", ha="center", va="center", fontsize=20, color=TXT)
ax_b.text(368.5, 21.54, "U. Kellwasser", ha="center", va="center", fontsize=20, color=TXT)
panel_letter(ax_b, "B", 0.985)

# ---------------- panel C ----------------
ax_c = add_axes(899, 1225)
df_c = pd.DataFrame(c13_points, columns=["age", "d13c"])
sns.scatterplot(data=df_c, x="age", y="d13c", ax=ax_c, color="#9dc41a", s=82, marker="o",
                edgecolor="none", linewidth=0, clip_on=False, zorder=2)
sns.lineplot(x=c13_trend_age, y=c13_trend, ax=ax_c, color="#2f9e66", lw=2, estimator=None, sort=False,
             zorder=3)
style(ax_c, (-3, 6), [-2, 0, 2, 4, 6], [-1, 1, 3, 5])
dotted(ax_c, [6, -3])
ax_c.set_ylabel(r"δ$^{13}$C$_{\rm carb}$‰ (V-PDB)", fontsize=21, color="#444444")
ax_c.yaxis.set_label_coords(-0.05, 0.5)
panel_letter(ax_c, "C", 0.95)

# ---------------- panel D ----------------
ax_d = add_axes(1282, 1573)
df_os = pd.DataFrame(os_points, columns=["age", "os"])
sns.scatterplot(data=df_os, x="age", y="os", ax=ax_d, color="#a2307e", s=62, marker=oval,
                edgecolor="none", linewidth=0, clip_on=False, zorder=3)
style(ax_d, (0.2, 1.0), [0.2, 0.4, 0.6, 0.8, 1.0], labels=["0.2", "0.4", "0.6", "0.8", "1.0"])
dotted(ax_d, [0.2, 1.0])
ax_d.set_ylabel(r"$^{187}$Os/$^{188}$Os$_{\rm i}$", fontsize=21, color="#444444")
ax_d.yaxis.set_label_coords(-0.05, 0.45)
ax_d.scatter([-0.046], [0.15], transform=ax_d.transAxes, s=62, marker=oval, color="#a2307e", clip_on=False)

ax_sr = ax_d.twinx()
df_sr = pd.DataFrame(sr_points, columns=["age", "sr"])
sns.lineplot(x=sr_trend_age, y=sr_trend, ax=ax_sr, color="#3d3d92", lw=3, estimator=None, sort=False,
             zorder=2)
sns.scatterplot(data=df_sr, x="age", y="sr", ax=ax_sr, s=75, marker=oval, facecolor="none",
                edgecolor="#ef8c0c", linewidth=1.7, clip_on=False, zorder=3)
ax_sr.set_xlim(AGE_OLD, AGE_YOUNG)
ax_sr.set_ylim(0.7074, 0.7086)
for side in ["top", "left", "bottom"]:
    ax_sr.spines[side].set_visible(False)
ax_sr.spines["right"].set_color("#555555")
ax_sr.spines["right"].set_linewidth(2.5)
ax_sr.set_yticks([0.7074, 0.7080, 0.7086])
ax_sr.set_yticklabels(["0.7074", "0.7080", "0.7086"])
ax_sr.set_yticks([0.7076, 0.7078, 0.7082, 0.7084], minor=True)
ax_sr.tick_params(axis="y", which="both", right=True, direction="out", length=7, width=3, color="#444444",
                  labelsize=19, labelcolor="#444444", pad=4)
ax_sr.set_xticks([])
ax_sr.set_xlabel("")
ax_sr.set_ylabel("")
sr_handle = Line2D([], [], ls="", marker=oval, mfc="none", mec="#ef8c0c", mew=1.7, ms=10,
                   label=r"$^{87}$Sr/$^{86}$Sr")
ax_sr.legend(handles=[sr_handle], loc="upper right", bbox_to_anchor=(0.99, 0.88), frameon=False,
             fontsize=20, handletextpad=0.3, labelcolor="#444444")
panel_letter(ax_d, "D", 0.98)

# ---------------- panel E ----------------
ax_e = add_axes(1641, 2070)
ax_e.add_patch(plt.Rectangle((study_box_age[0], study_box_val[0]), study_box_age[1] - study_box_age[0],
                             study_box_val[1] - study_box_val[0], facecolor="#fcf6c2",
                             edgecolor="#9a9a80", ls=(0, (1, 1)), lw=2, zorder=1))
df_li = pd.DataFrame(li_points, columns=["age", "li"])
df_ls = pd.DataFrame(li_study_points, columns=["age", "li"])
sns.scatterplot(data=df_li, x="age", y="li", ax=ax_e, s=85, marker=oval, facecolor="none",
                edgecolor="#333333", linewidth=1.4, clip_on=False, zorder=3)
sns.scatterplot(data=df_ls, x="age", y="li", ax=ax_e, s=85, marker=oval, facecolor="none",
                edgecolor="#cc1f1f", linewidth=1.6, clip_on=False, zorder=3)
style(ax_e, (0, 30), [0, 10, 20, 30], [5, 15, 25])
dotted(ax_e, [30])
ax_e.text(358.9, 24.6, "This\nstudy", fontsize=20, color=TXT, va="top", linespacing=1.05)
ax_e.set_ylabel(r"δ$^{7}$Li$_{\rm carb}$‰", fontsize=21, color="#444444")
ax_e.yaxis.set_label_coords(-0.05, 0.5)
panel_letter(ax_e, "E", 0.96)

# ---------------- time scale ----------------
ax_ts = add_axes(2070, 2196)
ax_ts.set_xlim(AGE_OLD, AGE_YOUNG)
ax_ts.set_ylim(0, 2)
ax_ts.set_facecolor("none")
for side in ax_ts.spines:
    ax_ts.spines[side].set_visible(False)
for yv, lw in [(2, 6), (1, 6), (0, 4)]:
    ax_ts.axhline(yv, color="#6b6b6b", lw=lw, zorder=3)
for b in stage_bounds[1:-1]:
    ax_ts.vlines(b, 1, 2, color="#444444", lw=1.5)
for b in period_bounds:
    ax_ts.vlines(b, 0, 2, color="#444444", lw=1.5)
for i, name in enumerate(stage_names):
    ax_ts.text((stage_bounds[i] + stage_bounds[i + 1]) / 2, 1.5, name, ha="center", va="center",
               fontsize=22, color="#444444")
for name, a in zip(period_names, period_label_age):
    ax_ts.text(a, 0.5, name, ha="center", va="center", fontsize=25, color="#444444")
ax_ts.set_yticks([])
ax_ts.set_xticks(age_ticks)
ax_ts.set_xticklabels([str(t) for t in age_ticks])
ax_ts.tick_params(axis="x", bottom=True, direction="out", length=20, width=1.5, color="#777777",
                  labelsize=16, labelcolor="#555555", pad=10)
fig.text(126 / W, 1 - 2240 / H, "Age\n(Ma)", ha="center", va="center", fontsize=16, color="#555555",
         linespacing=1.0)

# ---------------- event bands ----------------
ax_ov = add_axes(384, 2070)
ax_ov.set_xlim(AGE_OLD, AGE_YOUNG)
ax_ov.set_ylim(0, 1)
ax_ov.axis("off")
ax_ov.set_zorder(10)
ax_ov.axvspan(*band_lk, color="#b9b9a6", alpha=0.5, lw=0)
ax_ov.axvline(band_lk[0] - 0.08, color="#8f8f7c", lw=3, alpha=0.55)
ax_ov.axvspan(*band_uk, color="#c4c4b8", alpha=0.5, lw=0)
ax_ov.axvspan(band_hc[0], band_hc[0] - 0.6, color="#dedede", alpha=0.5, lw=0)
ax_ov.axvspan(band_hc[0] - 0.6, band_hc[1], color="#a3a3a3", alpha=0.55, lw=0)
# HC label sits on top of its band
ax_ov.text(359.75, 1 - (24 - 21.54) * 56.5 / 1686, "HC", ha="center", va="center", fontsize=20, color=TXT)

fig.savefig("out.png", dpi=100)
